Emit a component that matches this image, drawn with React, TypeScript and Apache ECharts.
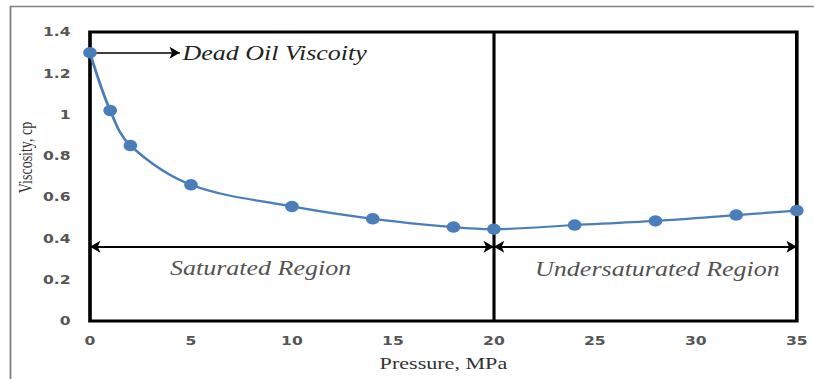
import React, { useEffect, useRef } from "react";
import * as echarts from "echarts";

const pressure = [0, 1, 2, 5, 10, 14, 18, 20, 24, 28, 32, 35];
const viscosity = [1.3, 1.02, 0.85, 0.66, 0.555, 0.495, 0.455, 0.445, 0.465, 0.485, 0.513, 0.535];
const bubblePoint = 20;
const arrowLevel = 0.36;
const deadOilArrowEnd = 4.45;
const regionLabels = [
  { name: "Saturated Region", x: 8.45, y: 0.255 },
  { name: "Undersaturated Region", x: 28.1, y: 0.25 },
];
const deadOilLabel = "Dead Oil Viscoity";

const STRETCH = 1.3;
const W = 814;
const H = 379;
const SERIF = "Liberation Serif";

export default function App() {
  const ref = useRef<HTMLDivElement>(null);
  useEffect(() => {
    const chart = echarts.init(ref.current!, null, { renderer: "svg" });
    const xMax = 35;
    const sx = (v: number) => v / STRETCH;
    chart.setOption({
      animation: false,
      backgroundColor: "#ffffff",
      grid: {
        left: sx(90),
        right: sx(17),
        top: 32,
        bottom: 58,
        show: true,
        borderColor: "#000",
        borderWidth: 2.8,
        backgroundColor: "transparent",
      },
      graphic: [
        {
          type: "polyline",
          shape: { points: [[sx(10.5), H], [sx(10.5), 6.5], [sx(W), 6.5]] },
          style: { stroke: "#808080", lineWidth: 1.4, fill: "none" },
          silent: true,
        },
      ],
      xAxis: {
        type: "value",
        min: 0,
        max: xMax,
        interval: 5,
        name: "Pressure, MPa",
        nameLocation: "middle",
        nameGap: 33,
        nameTextStyle: { fontFamily: SERIF, fontSize: 17, color: "#333" },
        axisLine: { show: false },
        axisTick: { show: false },
        splitLine: { show: false },
        axisLabel: {
          margin: 14,
          fontFamily: "DejaVu Sans",
          fontWeight: "bold",
          fontSize: 12,
          color: "#555555",
        },
      },
      yAxis: {
        type: "value",
        min: 0,
        max: 1.4,
        interval: 0.2,
        name: "Viscosity, cp",
        nameLocation: "middle",
        nameMoveOverlap: false,
        nameGap: 42,
        nameTextStyle: {
          fontFamily: SERIF,
          fontSize: 14,
          color: "#333",
          padding: [0, 0, 0, 38],
        },
        axisLine: { show: false },
        axisTick: { show: false },
        splitLine: { show: false },
        axisLabel: {
          margin: 15,
          fontFamily: "DejaVu Sans",
          fontWeight: "bold",
          fontSize: 12,
          color: "#555555",
        },
      },
      series: [
        {
          type: "line",
          data: pressure.map((p, i) => [p, viscosity[i]]),
          smooth: 0.35,
          symbol: "circle",
          symbolSize: [10.5, 11.5],
          z: 5,
          lineStyle: { color: "#4a7ebb", width: 2.2 },
          itemStyle: { color: "#4a7ebb" },
          markLine: {
            silent: true,
            symbol: "none",
            lineStyle: { color: "#000", width: 2.4, type: "solid" },
            label: { show: false },
            data: [{ xAxis: bubblePoint }],
          },
        },
        {
          type: "line",
          data: [],
          markLine: {
            silent: true,
            symbol: ["none", "arrow"],
            symbolSize: [9, 8],
            lineStyle: { color: "#000", width: 1.5, type: "solid" },
            label: {
              show: true,
              position: "end",
              distance: 2,
              formatter: deadOilLabel,
              fontFamily: SERIF,
              fontStyle: "italic",
              fontSize: 20,
              color: "#222",
            },
            data: [[{ coord: [0, viscosity[0]] }, { coord: [deadOilArrowEnd, viscosity[0]] }]],
          },
        },
        {
          type: "line",
          data: [],
          markLine: {
            silent: true,
            symbol: ["arrow", "arrow"],
            symbolSize: [9, 8],
            lineStyle: { color: "#000", width: 2, type: "solid" },
            label: { show: false },
            data: [
              [{ coord: [0, arrowLevel] }, { coord: [bubblePoint, arrowLevel] }],
              [{ coord: [bubblePoint, arrowLevel] }, { coord: [xMax, arrowLevel] }],
            ],
          },
        },
        {
          type: "scatter",
          symbolSize: 0,
          silent: true,
          data: regionLabels.map((r) => ({ name: r.name, value: [r.x, r.y] })),
          label: {
            show: true,
            position: "inside",
            formatter: (p: any) => p.name,
            fontFamily: SERIF,
            fontStyle: "italic",
            fontSize: 20,
            color: "#222",
          },
        },
      ],
    });
    return () => chart.dispose();
  }, []);
  return (
    <div style={{ position: "absolute", left: 0, top: 0, width: W, height: H, overflow: "hidden", background: "#fff" }}>
      <div
        ref={ref}
        style={{
          width: W / STRETCH,
          height: H,
          transform: `scaleX(${STRETCH})`,
          transformOrigin: "0 0",
        }}
      />
    </div>
  );
}
